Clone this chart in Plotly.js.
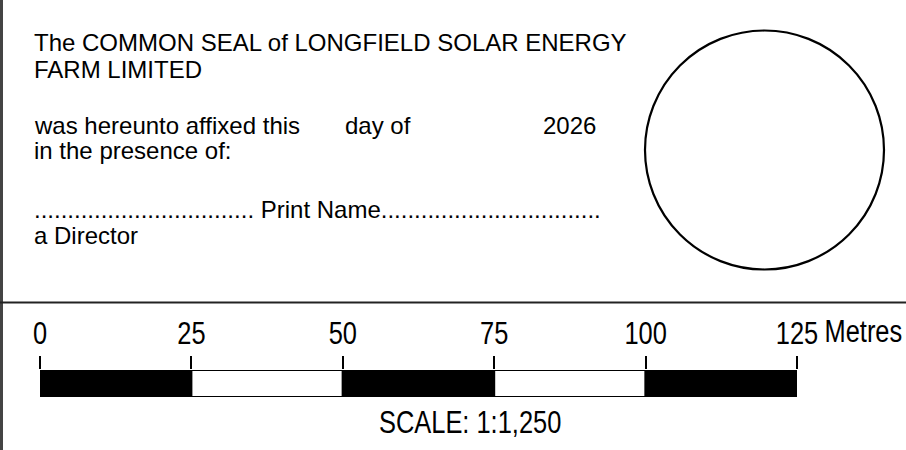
<!DOCTYPE html>
<html>
<head>
<meta charset="utf-8">
<script src="https://cdn.plot.ly/plotly-3.0.1.min.js"></script>
<style>
html,body{margin:0;padding:0;background:#fff;}
#chart{width:906px;height:450px;}
</style>
</head>
<body>
<div id="chart"></div>
<script>
// ---- data ----
const sealLines = [
  'The COMMON SEAL of LONGFIELD SOLAR ENERGY',
  'FARM LIMITED',
  'was hereunto affixed this',
  'in the presence of:',
  '................................. Print Name.................................',
  'a Director'
];
const dateParts = ['day of', '2026'];
const tickValues = [0, 25, 50, 75, 100, 125];
const tickLabels = ['0', '25', '50', '75', '100', '125'];
const segmentStarts = [0, 25, 50, 75, 100];
const segmentLengths = [25, 25, 25, 25, 25];
const unitLabel = 'Metres';
const scaleLabel = 'SCALE: 1:1,250';

// ---- layout helpers ----
const W = 906, H = 450;
const px = v => v / W;
const py = v => 1 - v / H;
const bodyFont = {family: 'Liberation Sans, Arial, sans-serif', size: 24, color: '#000'};
// narrow (Arial Narrow-like) text: Liberation Sans compressed horizontally after drawing
const narrowFont = {family: 'Liberation Sans, Arial, sans-serif', size: 31, color: '#000'};
const NARROW = 0.82;

const barTrace = {
  type: 'bar',
  orientation: 'h',
  x: segmentLengths,
  base: segmentStarts,
  y: segmentStarts.map(() => 0),
  width: 1,
  marker: {
    color: segmentStarts.map((s, i) => i % 2 === 0 ? '#000' : '#fff'),
    line: {color: '#000', width: 2}
  },
  hoverinfo: 'skip',
  showlegend: false
};

const rowBaselines = [51, 78, 134, 159, 218, 244];
const annotations = sealLines.map((t, i) => ({
  text: t, xref: 'paper', yref: 'paper', x: px(33), y: py(rowBaselines[i] + 6),
  xanchor: 'left', yanchor: 'bottom', showarrow: false, font: bodyFont, borderpad: 0
}));
annotations.push({text: dateParts[0], xref: 'paper', yref: 'paper', x: px(344), y: py(rowBaselines[2] + 6),
  xanchor: 'left', yanchor: 'bottom', showarrow: false, font: bodyFont, borderpad: 0});
annotations.push({text: dateParts[1], xref: 'paper', yref: 'paper', x: px(542), y: py(rowBaselines[2] + 6),
  xanchor: 'left', yanchor: 'bottom', showarrow: false, font: bodyFont, borderpad: 0});
annotations.push({text: unitLabel, xref: 'x', yref: 'paper', x: tickValues[tickValues.length - 1], xshift: 66,
  y: py(343 + 7), xanchor: 'center', yanchor: 'bottom', showarrow: false, font: narrowFont, borderpad: 0});
annotations.push({text: scaleLabel, xref: 'paper', yref: 'paper', x: px(469.5), y: py(434 + 7),
  xanchor: 'center', yanchor: 'bottom', showarrow: false, font: narrowFont, borderpad: 0});

const shapes = [
  {type: 'line', xref: 'paper', yref: 'paper', x0: px(1.5), x1: px(1.5), y0: 0, y1: 1,
   line: {color: '#444', width: 3}},
  {type: 'line', xref: 'paper', yref: 'paper', x0: 0, x1: 1, y0: py(302.5), y1: py(302.5),
   line: {color: '#222', width: 2}},
  {type: 'circle', xref: 'paper', yref: 'paper', x0: px(645), x1: px(884), y0: py(269.5), y1: py(30.5),
   line: {color: '#000', width: 2.2}}
];

const layout = {
  width: W, height: H,
  margin: {l: 0, r: 0, t: 0, b: 0, pad: 0},
  paper_bgcolor: '#fff', plot_bgcolor: 'rgba(0,0,0,0)',
  showlegend: false,
  xaxis: {
    domain: [px(40), px(797)], range: [0, 125], side: 'top', anchor: 'y',
    tickmode: 'array', tickvals: tickValues, ticktext: tickLabels,
    ticks: 'outside', ticklen: 13, tickwidth: 2, tickcolor: '#000',
    tickfont: narrowFont, showgrid: false, zeroline: false, showline: false,
    fixedrange: true
  },
  yaxis: {
    domain: [py(397), py(370)], range: [-0.5, 0.5], visible: false, fixedrange: true
  },
  shapes: shapes,
  annotations: annotations
};

Plotly.newPlot('chart', [barTrace], layout, {displayModeBar: false, staticPlot: true}).then(gd => {
  // compress the scale-bar texts to a narrow face
  const narrowTexts = Array.from(gd.querySelectorAll('.xtick text'));
  gd.querySelectorAll('.annotation-text').forEach(t => {
    if (t.textContent === unitLabel || t.textContent === scaleLabel) narrowTexts.push(t);
  });
  narrowTexts.forEach(t => {
    const len = t.getComputedTextLength();
    t.setAttribute('textLength', (len * NARROW).toFixed(2));
    t.setAttribute('lengthAdjust', 'spacingAndGlyphs');
    // shrink the annotation's (invisible) box to match the narrowed text
    const rect = t.parentNode && t.parentNode.querySelector('rect.bg');
    if (rect) {
      const w = parseFloat(rect.getAttribute('width'));
      const x = parseFloat(rect.getAttribute('x') || 0);
      rect.setAttribute('x', (x + w * (1 - NARROW) / 2).toFixed(2));
      rect.setAttribute('width', (w * NARROW).toFixed(2));
    }
  });
});
</script>
</body>
</html>
